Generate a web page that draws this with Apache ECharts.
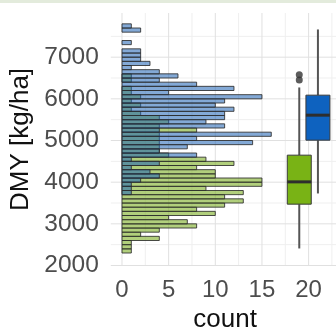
<!DOCTYPE html>
<html><head><meta charset="utf-8">
<script src="https://cdn.jsdelivr.net/npm/echarts@6/dist/echarts.min.js"></script>
<style>html,body{margin:0;padding:0;background:#fff}#c{width:336px;height:331px}</style>
</head><body><div id="c"></div>
<script>
// ---- data ----
const binStarts = [2300,2400,2500,2600,2700,2800,2900,3000,3100,3200,3300,3400,3500,3600,3700,3800,3900,4000,4100,4200,4300,4400,4500,4600,4700,4800,4900,5000,5100,5200,5300,5400,5500,5600,5700,5800,5900,6000,6100,6200,6300,6400,6500,6600,6700,6800,6900,7000,7100,7200,7300,7400,7500,7600,7700];
const binWidth = 100;
const blueCounts = [0,0,0,0,0,0,0,0,0,0,0,0,0,0,
  1,1,1,2,4,3,1,4,1,8,4,7,14,8,16,4,11,9,11,11,12,10,11,15,5,12,8,4,6,4,1,3,2,2,2,0,1,0,0,2,1];
const greenCounts = [1,1,1,4,2,4,8,7,5,10,8,11,13,11,13,9,15,15,10,10,8,12,9,5,4,4,4,4,4,8,4,5,4,2,1,2,1,2,1,1,0,1,1,
  0,0,0,0,0,0,0,0,0,0,0,0];
// boxplot stats: [lower whisker, Q1, median, Q3, upper whisker]
const greenBox = [2409, 3472, 4007, 4648, 6273];
const blueBox = [3729, 5008, 5608, 6088, 7665];
const greenOutliers = [6580, 6450];
const xTickLabels = [0, 5, 10, 15, 20];
const xMinorTicks = [2.5, 7.5, 12.5, 17.5, 22.5];
const yTickLabels = [2000, 3000, 4000, 5000, 6000, 7000];
const yMinorTicks = [2500, 3500, 4500, 5500, 6500, 7500];

// ---- layout / style ----
const X_MIN = -1.2, X_MAX = 23.3, Y_MIN = 1990, Y_MAX = 8060;
const GREEN_POS = 19, BLUE_POS = 21, BOX_W = 2.57;
const FONT = 'Liberation Sans, Arial, sans-serif';

const chart = echarts.init(document.getElementById('c'), null, {renderer: 'canvas'});

function histData(counts) {
  const out = [];
  binStarts.forEach((s, i) => { if (counts[i] > 0) out.push([s, s + binWidth, counts[i]]); });
  return out;
}
function histRender(fill) {
  return function (params, api) {
    const lo = api.value(0), hi = api.value(1), c = api.value(2);
    const p0 = api.coord([0, lo]);
    const p1 = api.coord([c, hi]);
    return {
      type: 'rect',
      shape: {x: p0[0], y: p1[1], width: p1[0] - p0[0], height: p0[1] - p1[1]},
      style: {fill: fill, stroke: 'rgba(45,45,45,0.85)', lineWidth: 1}
    };
  };
}
function boxRender(fill) {
  return function (params, api) {
    const pos = api.value(0);
    const mn = api.value(1), q1 = api.value(2), md = api.value(3), q3 = api.value(4), mx = api.value(5);
    const c = api.coord([pos, md]);
    const l = api.coord([pos - BOX_W / 2, q3]);
    const r = api.coord([pos + BOX_W / 2, q1]);
    const pMin = api.coord([pos, mn]), pQ1 = api.coord([pos, q1]), pQ3 = api.coord([pos, q3]), pMax = api.coord([pos, mx]);
    const ws = {stroke: '#555', lineWidth: 2};
    return {
      type: 'group',
      children: [
        {type: 'line', shape: {x1: pMin[0], y1: pMin[1], x2: pQ1[0], y2: pQ1[1]}, style: ws},
        {type: 'line', shape: {x1: pQ3[0], y1: pQ3[1], x2: pMax[0], y2: pMax[1]}, style: ws},
        {type: 'rect', shape: {x: l[0], y: l[1], width: r[0] - l[0], height: r[1] - l[1]}, style: {fill: fill, stroke: '#3a3a3a', lineWidth: 1}},
        {type: 'line', shape: {x1: l[0], y1: c[1], x2: r[0], y2: c[1]}, style: {stroke: '#2e2e2e', lineWidth: 3}}
      ]
    };
  };
}
function gridRender(params, api) {
  const children = [];
  const addV = (v, col) => {
    const a = api.coord([v, Y_MIN]), b = api.coord([v, Y_MAX]);
    children.push({type: 'line', shape: {x1: a[0], y1: a[1], x2: b[0], y2: b[1]}, style: {stroke: col, lineWidth: 1}});
  };
  const addH = (v, col) => {
    const a = api.coord([X_MIN, v]), b = api.coord([X_MAX, v]);
    children.push({type: 'line', shape: {x1: a[0], y1: a[1], x2: b[0], y2: b[1]}, style: {stroke: col, lineWidth: 1}});
  };
  xMinorTicks.forEach(v => addV(v, '#efefef'));
  yMinorTicks.forEach(v => addH(v, '#efefef'));
  xTickLabels.forEach(v => addV(v, '#e0e0e0'));
  yTickLabels.forEach(v => addH(v, '#e0e0e0'));
  return {type: 'group', children};
}

const option = {
  animation: false,
  backgroundColor: '#fff',
  textStyle: {fontFamily: FONT},
  graphic: [{type: 'rect', shape: {x: 0, y: 0, width: 336, height: 3}, style: {fill: '#e3ebdc'}, z: 100}],
  grid: {left: 110.8, top: 13, width: (X_MAX - X_MIN) * 9.33, height: (Y_MAX - Y_MIN) / 24,
    outerBoundsMode: 'none', containLabel: false},
  xAxis: {
    type: 'value', min: X_MIN, max: X_MAX,
    axisLine: {show: false}, axisTick: {show: false}, splitLine: {show: false},
    axisLabel: {customValues: xTickLabels, fontSize: 24, color: '#4d4d4d', margin: 12, fontFamily: FONT,
      formatter: v => String(v)},
    name: 'count', nameLocation: 'middle', nameGap: 37,
    nameTextStyle: {fontSize: 26, color: '#111', fontFamily: FONT}
  },
  yAxis: {
    type: 'value', min: Y_MIN, max: Y_MAX,
    axisLine: {show: false}, axisTick: {show: false}, splitLine: {show: false},
    axisLabel: {customValues: yTickLabels, fontSize: 24.5, color: '#4d4d4d', margin: 12, fontFamily: FONT,
      formatter: v => String(v)},
    name: 'DMY [kg/ha]', nameLocation: 'middle', nameGap: 76,
    nameTextStyle: {fontSize: 26, color: '#111', fontFamily: FONT}
  },
  series: [
    {type: 'custom', renderItem: gridRender, data: [[0, Y_MIN]], z: 0, silent: true, clip: true},
    {type: 'custom', renderItem: histRender('rgba(121,172,30,0.58)'), data: histData(greenCounts), encode: {x: 2, y: [0, 1]}, z: 2, clip: true},
    {type: 'custom', renderItem: histRender('rgba(30,98,180,0.55)'), data: histData(blueCounts), encode: {x: 2, y: [0, 1]}, z: 3, clip: true},
    {type: 'custom', renderItem: boxRender('#79b315'), data: [[GREEN_POS].concat(greenBox)], encode: {x: 0, y: [1, 5]}, z: 4, clip: true},
    {type: 'custom', renderItem: boxRender('#0e62bf'), data: [[BLUE_POS].concat(blueBox)], encode: {x: 0, y: [1, 5]}, z: 4, clip: true},
    {type: 'scatter', data: greenOutliers.map(v => [GREEN_POS, v]), symbolSize: 7, itemStyle: {color: '#333'}, z: 5}
  ]
};
chart.setOption(option);
</script>
</body></html>
